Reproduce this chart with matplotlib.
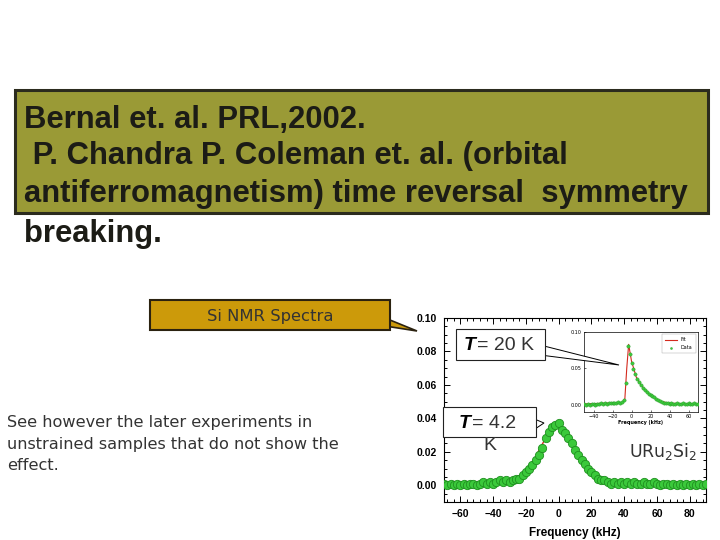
import numpy as np
import matplotlib.pyplot as plt
from matplotlib.patches import Rectangle, Polygon
from matplotlib.ticker import AutoMinorLocator, FormatStrFormatter

# main spectrum, T = 4.2 K
freq = np.arange(-70, 91, 2)
signal = [0.001, 0.000, 0.001, 0.000, 0.001, 0.000, 0.001, 0.000, 0.001, 0.001,
          0.000, 0.001, 0.002, 0.001, 0.002, 0.001, 0.002, 0.003, 0.002, 0.003,
          0.002, 0.003, 0.004, 0.004, 0.006, 0.008, 0.010, 0.012, 0.015, 0.018,
          0.022, 0.028, 0.032, 0.035, 0.036, 0.037, 0.033, 0.031, 0.028, 0.025,
          0.021, 0.018, 0.015, 0.013, 0.010, 0.008, 0.006, 0.004, 0.003, 0.003,
          0.002, 0.001, 0.002, 0.001, 0.002, 0.001, 0.002, 0.001, 0.002, 0.001,
          0.001, 0.002, 0.001, 0.001, 0.002, 0.001, 0.000, 0.001, 0.001, 0.000,
          0.001, 0.000, 0.001, 0.000, 0.001, 0.000, 0.001, 0.000, 0.001, 0.000,
          0.001]
fit_freq = [-70, -40, -30, -25, -20, -16, -12, -8, -4, 0, 4, 8, 12, 16, 20, 25, 30, 40, 90]
fit_signal = [0.0005, 0.0015, 0.003, 0.005, 0.008, 0.012, 0.021, 0.028, 0.033, 0.035,
              0.031, 0.025, 0.018, 0.012, 0.008, 0.004, 0.002, 0.001, 0.0005]

# inset spectrum, T = 20 K
inset_freq = np.arange(-50, 71, 2)
inset_signal = [0.001, 0.000, 0.001, 0.000, 0.001, 0.001, 0.000, 0.001, 0.001, 0.002,
                0.001, 0.002, 0.001, 0.002, 0.002, 0.003, 0.002, 0.003, 0.004, 0.003,
                0.004, 0.006, 0.030, 0.081, 0.070, 0.058, 0.049, 0.042, 0.036, 0.031,
                0.027, 0.023, 0.020, 0.017, 0.015, 0.013, 0.012, 0.010, 0.008, 0.006,
                0.005, 0.004, 0.003, 0.002, 0.002, 0.001, 0.002, 0.001, 0.001, 0.002,
                0.001, 0.001, 0.002, 0.001, 0.001, 0.002, 0.001, 0.001, 0.002, 0.001,
                0.001]
inset_fit_freq = [-50, -10, -7, -5, -3, 0, 5, 10, 20, 30, 40, 70]
inset_fit_signal = [0.001, 0.003, 0.008, 0.050, 0.083, 0.060, 0.038, 0.027, 0.013, 0.005, 0.002, 0.001]

main_xticks = [-60, -40, -20, 0, 20, 40, 60, 80]
main_yticks = [0.00, 0.02, 0.04, 0.06, 0.08, 0.10]
inset_xticks = [-40, -20, 0, 20, 40, 60]
inset_yticks = [0.00, 0.05, 0.10]

W, H = 720, 540
fig = plt.figure(figsize=(7.2, 5.4), dpi=100)


def fx(px):
    return px / W


def fy(py):
    return 1 - py / H


def box(x0, y0, x1, y1, fc, ec, lw=1.0):
    fig.add_artist(Rectangle((fx(x0), fy(y1)), fx(x1) - fx(x0), fy(y0) - fy(y1),
                             transform=fig.transFigure, fc=fc, ec=ec, lw=lw))


def wedge(pts, fc, ec, lw=0.8):
    fig.add_artist(Polygon([(fx(a), fy(b)) for a, b in pts], closed=True,
                           transform=fig.transFigure, fc=fc, ec=ec, lw=lw))


# main axes
ax = fig.add_axes([fx(444), fy(502), fx(706) - fx(444), fy(318) - fy(502)])
ax.plot(fit_freq, fit_signal, color="#d42a1e", lw=1.0, zorder=2)
ax.plot(freq, signal, "o", ms=6, mfc="#3bc93b", mec="#1f8f1f", mew=0.6, zorder=3)
ax.set_xlim(-70, 90)
ax.set_ylim(-0.01, 0.10)
ax.set_xticks(main_xticks)
ax.set_yticks(main_yticks)
ax.yaxis.set_major_formatter(FormatStrFormatter("%.2f"))
ax.xaxis.set_minor_locator(AutoMinorLocator(5))
ax.yaxis.set_minor_locator(AutoMinorLocator(4))
ax.tick_params(which="both", direction="in", top=True, right=True, width=0.7)
ax.tick_params(which="major", length=4, labelsize=7.5, pad=5)
ax.tick_params(which="minor", length=2)
plt.setp(ax.get_xticklabels() + ax.get_yticklabels(), fontweight="bold", family="Liberation Sans")
for s in ax.spines.values():
    s.set_linewidth(0.8)
ax.set_xlabel("Frequency (kHz)", fontsize=8.5, fontweight="bold", family="Liberation Sans", labelpad=6)

# inset axes
ins = fig.add_axes([fx(584), fy(412), fx(698) - fx(584), fy(332) - fy(412)])
ins.plot(inset_fit_freq, inset_fit_signal, color="#d42a1e", lw=0.8, label="Fit", zorder=2)
ins.plot(inset_freq, inset_signal, "o", ms=2.4, mfc="#3bc93b", mec="#2a9a2a", mew=0.3,
         label="Data", zorder=3)
ins.set_xlim(-50, 70)
ins.set_ylim(-0.01, 0.10)
ins.set_xticks(inset_xticks)
ins.set_yticks(inset_yticks)
ins.yaxis.set_major_formatter(FormatStrFormatter("%.2f"))
ins.tick_params(direction="in", length=1.5, width=0.4, labelsize=3.5, pad=1.5)
for s in ins.spines.values():
    s.set_linewidth(0.5)
ins.set_xlabel("Frequency (kHz)", fontsize=3.5, fontweight="bold", labelpad=1)
leg = ins.legend(loc="upper right", fontsize=3.5, handlelength=2.5, markerscale=0.6,
                 frameon=True, fancybox=False, borderpad=0.6, labelspacing=0.6)
leg.get_frame().set_linewidth(0.3)
leg.get_frame().set_edgecolor("#888888")

# top olive box with citation
box(15, 90, 708, 213, "#9a9a36", "#2b2b1e", lw=2.2)
top_lines = ["Bernal et. al. PRL,2002.",
             " P. Chandra P. Coleman et. al. (orbital",
             "antiferromagnetism) time reversal  symmetry",
             "breaking."]
top_y = [120, 156, 194, 234]
for txt, yy in zip(top_lines, top_y):
    fig.text(fx(24), fy(yy), txt, fontsize=22.3, fontweight="bold", family="Liberation Sans",
             color="#1c1c16", va="center", ha="left")

# Si NMR Spectra callout
wedge([(385, 318), (417, 331), (385, 326)], "#cc9a0a", "#2b2210", lw=1.2)
box(150, 300, 390, 330, "#cc9a0a", "#2b2210", lw=1.5)
fig.text(fx(270), fy(316), "Si NMR Spectra", fontsize=11.8, color="#333333",
         family="DejaVu Sans", ha="center", va="center")

# left remark
remark = ["See however the later experiments in",
          "unstrained samples that do not show the",
          "effect."]
for i, txt in enumerate(remark):
    fig.text(fx(7), fy(422 + 22 * i), txt, fontsize=11.6, color="#333333",
             family="DejaVu Sans", ha="left", va="center")

# T = 20 K callout
wedge([(540, 345), (619, 365), (540, 355)], "white", "black", lw=0.7)
box(456, 329, 545, 360, "white", "#222222", lw=0.8)
fig.text(fx(464), fy(345), "T", fontsize=14, fontweight="bold", style="italic",
         family="Liberation Sans", ha="left", va="center")
fig.text(fx(477), fy(345), "= 20 K", fontsize=14, family="Liberation Sans",
         color="#333333", ha="left", va="center")

# T = 4.2 K callout
wedge([(532, 418), (544, 423), (532, 431)], "white", "black", lw=0.7)
box(443, 407, 536, 437, "white", "#222222", lw=0.8)
fig.text(fx(459), fy(423), "T", fontsize=14, fontweight="bold", style="italic",
         family="Liberation Sans", ha="left", va="center")
fig.text(fx(472), fy(423), "= 4.2", fontsize=14, family="Liberation Sans",
         color="#333333", ha="left", va="center")
fig.text(fx(490), fy(446), "K", fontsize=14, family="Liberation Sans",
         color="#333333", ha="center", va="center")

fig.text(fx(663), fy(451), "URu$_2$Si$_2$", fontsize=12.5, family="DejaVu Sans",
         color="#333333", ha="center", va="center")

fig.savefig("out.png", dpi=100)
